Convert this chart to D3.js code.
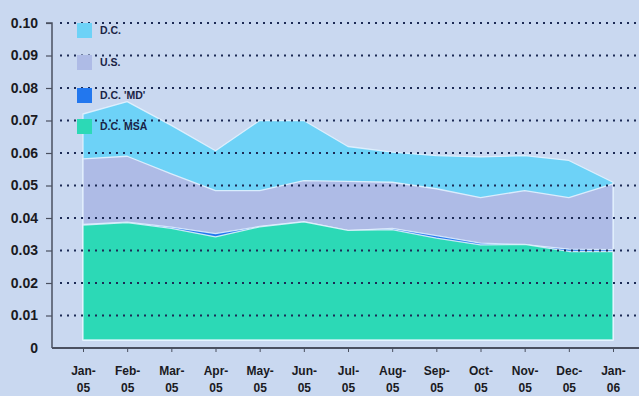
<!DOCTYPE html>
<html>
<head>
<meta charset="utf-8">
<script src="https://cdn.jsdelivr.net/npm/d3@7"></script>
<style>
  html, body { margin: 0; padding: 0; background: #c9d8f0; }
  svg { display: block; }
  text { font-family: "Liberation Sans", Arial, sans-serif; }
</style>
</head>
<body>
<script>
// Monthly rates, Jan 2005 – Jan 2006
const months = ["Jan-05","Feb-05","Mar-05","Apr-05","May-05","Jun-05","Jul-05",
                "Aug-05","Sep-05","Oct-05","Nov-05","Dec-05","Jan-06"];
const seriesNames = ["D.C.", "U.S.", "D.C. 'MD'", "D.C. MSA"];
const dcValues  = [0.072, 0.0758, 0.0685, 0.0607, 0.070, 0.070, 0.062, 0.0603, 0.0592, 0.0588, 0.0592, 0.0577, 0.051];
const usValues  = [0.0582, 0.059, 0.0536, 0.0484, 0.0484, 0.0515, 0.0513, 0.051, 0.049, 0.0463, 0.0484, 0.0463, 0.0505];
const mdValues  = [0.0380, 0.0387, 0.0372, 0.0352, 0.0374, 0.0389, 0.0361, 0.0368, 0.0346, 0.0323, 0.0318, 0.0304, 0.0303];
const msaValues = [0.0378, 0.0386, 0.0368, 0.0342, 0.0373, 0.0388, 0.0362, 0.0364, 0.0338, 0.0317, 0.0319, 0.0297, 0.0297];
const yTicks = [0, 0.01, 0.02, 0.03, 0.04, 0.05, 0.06, 0.07, 0.08, 0.09, 0.10];

const colors = ["#6dd2f7", "#aebbe6", "#2277ee", "#2cd9b6"];
const allSeries = [dcValues, usValues, mdValues, msaValues];

const W = 639, H = 396;
const svg = d3.select("body").append("svg").attr("width", W).attr("height", H);

const x = d3.scalePoint().domain(months).range([83, 613]);
const y = d3.scaleLinear().domain([0, 0.10]).range([348, 23]);
const baseInset = 8; // areas sit a little above the axis line

const area = d3.area()
  .x((d, i) => x(months[i]))
  .y0(y(0) - baseInset)
  .y1(d => y(d));

// overlapping areas, back to front
svg.append("g").selectAll("path")
  .data(allSeries)
  .join("path")
  .attr("d", d => area(d))
  .attr("fill", (d, i) => colors[i])
  .attr("stroke", "#e6f3ff")
  .attr("stroke-opacity", 0.85)
  .attr("stroke-width", 1.3)
  .attr("stroke-linejoin", "round");

// dotted gridlines drawn over the areas
svg.append("g").selectAll("line")
  .data(yTicks.filter(t => t > 0))
  .join("line")
  .attr("x1", 60).attr("x2", W)
  .attr("y1", d => y(d)).attr("y2", d => y(d))
  .attr("stroke", "#1c2a55")
  .attr("stroke-width", 2)
  .attr("stroke-dasharray", "2,5");

// legend
const legend = svg.append("g");
const legendY = [30, 62, 95, 126];
seriesNames.forEach((name, i) => {
  legend.append("rect")
    .attr("x", 77).attr("y", legendY[i] - 7)
    .attr("width", 15).attr("height", 15)
    .attr("fill", colors[i]);
  legend.append("text")
    .attr("x", 100).attr("y", legendY[i] + 4)
    .attr("font-size", 10.5).attr("font-weight", "bold")
    .attr("fill", "#1a2345")
    .text(name);
});

// y axis
const yAxis = svg.append("g").attr("transform", "translate(52,0)")
  .call(d3.axisLeft(y).tickValues(yTicks).tickSize(6).tickPadding(8)
    .tickFormat(d => d === 0 ? "0" : d3.format(".2f")(d)));
yAxis.select(".domain").attr("stroke", "#4a5060").attr("stroke-width", 1.5)
  .attr("d", `M-6,${y(0.10)}H0V${y(0)}`);
yAxis.selectAll(".tick line").attr("stroke", "#4a5060").attr("stroke-width", 1.2)
  .filter(d => d === 0).remove();
yAxis.selectAll(".tick text")
  .attr("font-size", 14).attr("font-weight", "bold").attr("fill", "#1a1a22")
  .attr("font-family", "'Liberation Sans', Arial, sans-serif");

// x axis
const xAxis = svg.append("g").attr("transform", `translate(0,${y(0)})`)
  .call(d3.axisBottom(x).tickSize(4).tickFormat(""));
xAxis.select(".domain").attr("stroke", "#4a5060").attr("stroke-width", 2)
  .attr("d", `M52,0H${W}`);
xAxis.selectAll(".tick line").attr("stroke", "#4a5060");
xAxis.selectAll(".tick").each(function(d) {
  const parts = d.split("-");
  const t = d3.select(this).append("text")
    .attr("text-anchor", "middle")
    .attr("font-size", 12).attr("font-weight", "bold").attr("fill", "#1a1a22")
    .attr("font-family", "'Liberation Sans', Arial, sans-serif");
  t.append("tspan").attr("x", 0).attr("y", 27).text(parts[0] + "-");
  t.append("tspan").attr("x", 0).attr("y", 44).text(parts[1]);
});
</script>
</body>
</html>
